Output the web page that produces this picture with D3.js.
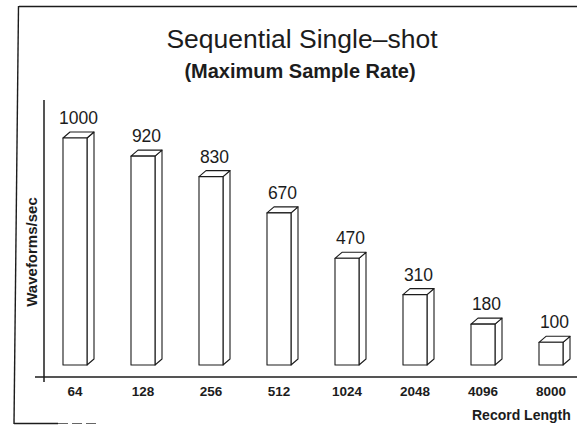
<!DOCTYPE html>
<html>
<head>
<meta charset="utf-8">
<script src="https://cdn.jsdelivr.net/npm/d3@7/dist/d3.min.js"></script>
<style>
  html, body { margin: 0; padding: 0; background: #fff; }
  svg { display: block; font-family: "Liberation Sans", Arial, sans-serif; }
</style>
</head>
<body>
<svg id="chart" width="577" height="425"></svg>
<script>
// Record lengths and acquisition rates (waveforms per second)
const recordLengths = ["64", "128", "256", "512", "1024", "2048", "4096", "8000"];
const waveformsPerSec = [1000, 920, 830, 670, 470, 310, 180, 100];
const valueDomain = [0, 1000];

const titleText = "Sequential Single\u2013shot";
const subtitleText = "(Maximum Sample Rate)";
const yLabelText = "Waveforms/sec";
const xLabelText = "Record Length";

const svg = d3.select("#chart");
const ink = "#1c1c1c";

// Scales
const x = d3.scaleBand()
  .domain(recordLengths)
  .range([41, 585])
  .paddingInner(0.647)
  .paddingOuter(0.3235);

const y = d3.scaleLinear()
  .domain(valueDomain)
  .range([365, 138]);

const depthX = 7, depthY = 6;

// Outer frame
const frame = svg.append("g").attr("stroke", ink).attr("fill", "none");
frame.append("line").attr("x1", 19).attr("y1", 6.5).attr("x2", 577).attr("y2", 6.5).attr("stroke-width", 1.6);
frame.append("line").attr("x1", 18.5).attr("y1", 6).attr("x2", 14).attr("y2", 424).attr("stroke-width", 1.4);
frame.append("line").attr("x1", 14).attr("y1", 423.5).attr("x2", 58).attr("y2", 423.5).attr("stroke-width", 1.4);
frame.append("line").attr("x1", 58).attr("y1", 423.5).attr("x2", 100).attr("y2", 423.5)
  .attr("stroke-width", 1).attr("stroke-dasharray", "10,4").attr("stroke", "#666");

// Titles
svg.append("text")
  .attr("x", 302).attr("y", 48)
  .attr("text-anchor", "middle")
  .attr("font-size", 26.5)
  .attr("fill", ink)
  .text(titleText);

svg.append("text")
  .attr("x", 300).attr("y", 78)
  .attr("text-anchor", "middle")
  .attr("font-size", 20)
  .attr("font-weight", "bold")
  .attr("fill", ink)
  .text(subtitleText);

// Axis lines
svg.append("line")
  .attr("x1", 44).attr("x2", 44)
  .attr("y1", 100).attr("y2", 382)
  .attr("stroke", ink).attr("stroke-width", 1.5);

svg.append("line")
  .attr("x1", 35).attr("x2", 577)
  .attr("y1", 377).attr("y2", 377)
  .attr("stroke", ink).attr("stroke-width", 1.6);

// Category labels along the bottom
const xAxis = svg.append("g")
  .attr("transform", "translate(0,377)")
  .call(d3.axisBottom(x).tickSize(0).tickPadding(9));
xAxis.select(".domain").remove();
xAxis.selectAll("text")
  .attr("font-family", "Liberation Sans, Arial, sans-serif")
  .attr("font-size", 13.5)
  .attr("font-weight", "bold")
  .attr("fill", ink);

// Axis titles
svg.append("text")
  .attr("transform", "translate(37,252) rotate(-90)")
  .attr("text-anchor", "middle")
  .attr("font-size", 15)
  .attr("font-weight", "bold")
  .attr("fill", ink)
  .text(yLabelText);

svg.append("text")
  .attr("x", 472).attr("y", 420)
  .attr("font-size", 14)
  .attr("font-weight", "bold")
  .attr("fill", ink)
  .text(xLabelText);

// 3-D bars: front face, top face and right side
const data = recordLengths.map((k, i) => ({ key: k, value: waveformsPerSec[i] }));
const bars = svg.append("g")
  .attr("fill", "#fff")
  .attr("stroke", ink)
  .attr("stroke-width", 1.1)
  .attr("stroke-linejoin", "round");

const bar = bars.selectAll("g.bar").data(data).join("g").attr("class", "bar");

bar.append("path")
  .attr("d", d => {
    const x0 = x(d.key), w = x.bandwidth(), yt = y(d.value);
    return `M${x0 + w},${yt} L${x0 + w + depthX},${yt - depthY} L${x0 + w + depthX},${y(0) - depthY} L${x0 + w},${y(0)} Z`;
  });

bar.append("path")
  .attr("d", d => {
    const x0 = x(d.key), w = x.bandwidth(), yt = y(d.value);
    return `M${x0},${yt} L${x0 + depthX},${yt - depthY} L${x0 + w + depthX},${yt - depthY} L${x0 + w},${yt} Z`;
  });

bar.append("rect")
  .attr("x", d => x(d.key))
  .attr("y", d => y(d.value))
  .attr("width", x.bandwidth())
  .attr("height", d => y(0) - y(d.value));

// Value labels above each bar
svg.append("g")
  .selectAll("text")
  .data(data)
  .join("text")
  .attr("x", d => x(d.key) + (x.bandwidth() + depthX) / 2)
  .attr("y", d => y(d.value) - depthY - 8)
  .attr("text-anchor", "middle")
  .attr("font-size", 17.5)
  .attr("fill", ink)
  .text(d => d.value);
</script>
</body>
</html>
